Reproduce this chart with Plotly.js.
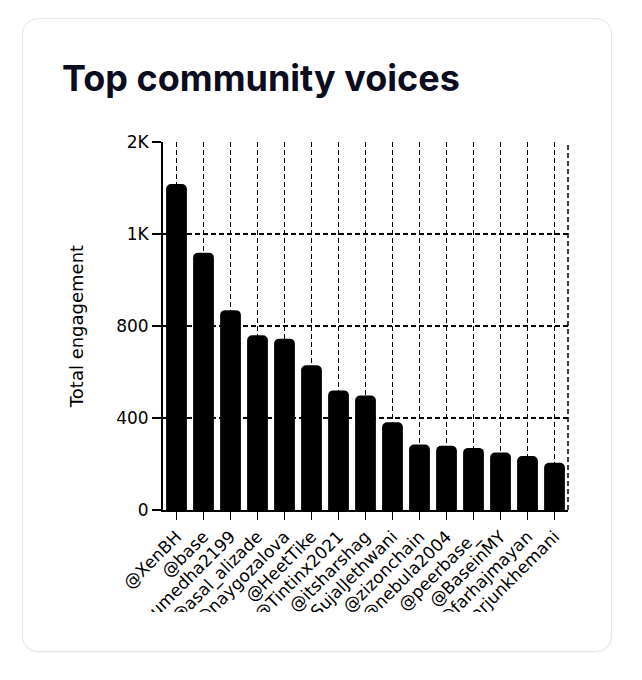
<!DOCTYPE html>
<html>
<head>
<meta charset="utf-8">
<script src="https://cdn.plot.ly/plotly-3.0.1.min.js"></script>
<style>
  html, body { margin: 0; padding: 0; background: #ffffff; width: 642px; height: 680px; overflow: hidden; }
  .card {
    position: absolute; left: 22px; top: 18px; width: 588px; height: 632px;
    border: 1px solid #e3e5ea; border-radius: 16px; background: #fff;
    box-shadow: 0 1px 2px rgba(16,24,40,0.04);
  }
  h1 {
    position: absolute; left: 62px; top: 56px; margin: 0;
    font-family: Inter, "Noto Sans", sans-serif; font-weight: 700; font-size: 36px;
    color: #0b0c1e; letter-spacing: 0px; line-height: 44px;
  }
  #chart { position: absolute; left: 62px; top: 130px; width: 510px; height: 482px; overflow: hidden; }
</style>
</head>
<body>
<div class="card"></div>
<h1>Top community voices</h1>
<div id="chart"></div>
<script>
const users = ["@XenBH","@base","@sumedha2199","@asal_alizade","@naygozalova","@HeetTike","@Tintinx2021","@itsharshag","@SujalJethwani","@zizonchain","@nebula2004","@peerbase_","@BaseinMY","@farhajmayan","@arjunkhemani"];
const engagement = [1417,1119,869,760,745,629,520,498,381,285,279,270,250,235,205];
const yTickVals = [0,400,800,1200,1600];
const yTickText = ["0","400","800","1K","2K"];

const FONT = "'DejaVu Sans', Verdana, sans-serif";

const trace = {
  type: "bar",
  x: users,
  y: engagement,
  marker: { color: "#000000", cornerradius: 5 },
  hoverinfo: "x+y"
};

const layout = {
  width: 510, height: 482,
  margin: { l: 101, r: 4, t: 12, b: 102 },
  paper_bgcolor: "rgba(0,0,0,0)",
  plot_bgcolor: "rgba(0,0,0,0)",
  bargap: 0.23,
  showlegend: false,
  font: { family: FONT, color: "#000" },
  xaxis: {
    type: "category",
    tickangle: -45,
    tickfont: { family: FONT, size: 17, color: "#000" },
    ticks: "outside", ticklen: 8, tickwidth: 1.5, tickcolor: "#000",
    showline: true, linecolor: "#000", linewidth: 2,
    showgrid: true, gridcolor: "#000", gridwidth: 1.8, griddash: "5px,3px",
    zeroline: false, automargin: false
  },
  yaxis: {
    range: [0, 1600],
    tickvals: yTickVals, ticktext: yTickText,
    tickfont: { family: FONT, size: 17, color: "#000" },
    ticks: "outside", ticklen: 9, tickwidth: 1.5, tickcolor: "#000",
    showline: true, linecolor: "#000", linewidth: 2,
    showgrid: true, gridcolor: "#000", gridwidth: 1.8, griddash: "5px,3px",
    zeroline: false, automargin: false,
    title: { text: "Total engagement", font: { family: FONT, size: 18, color: "#000" }, standoff: 28 }
  },
  shapes: [{
    type: "line", xref: "paper", yref: "paper", x0: 1, x1: 1, y0: 0, y1: 1,
    line: { color: "#000", width: 1.5, dash: "5px,3px" }
  }]
};

Plotly.newPlot("chart", [trace], layout, { displayModeBar: false, staticPlot: true });
</script>
</body>
</html>
